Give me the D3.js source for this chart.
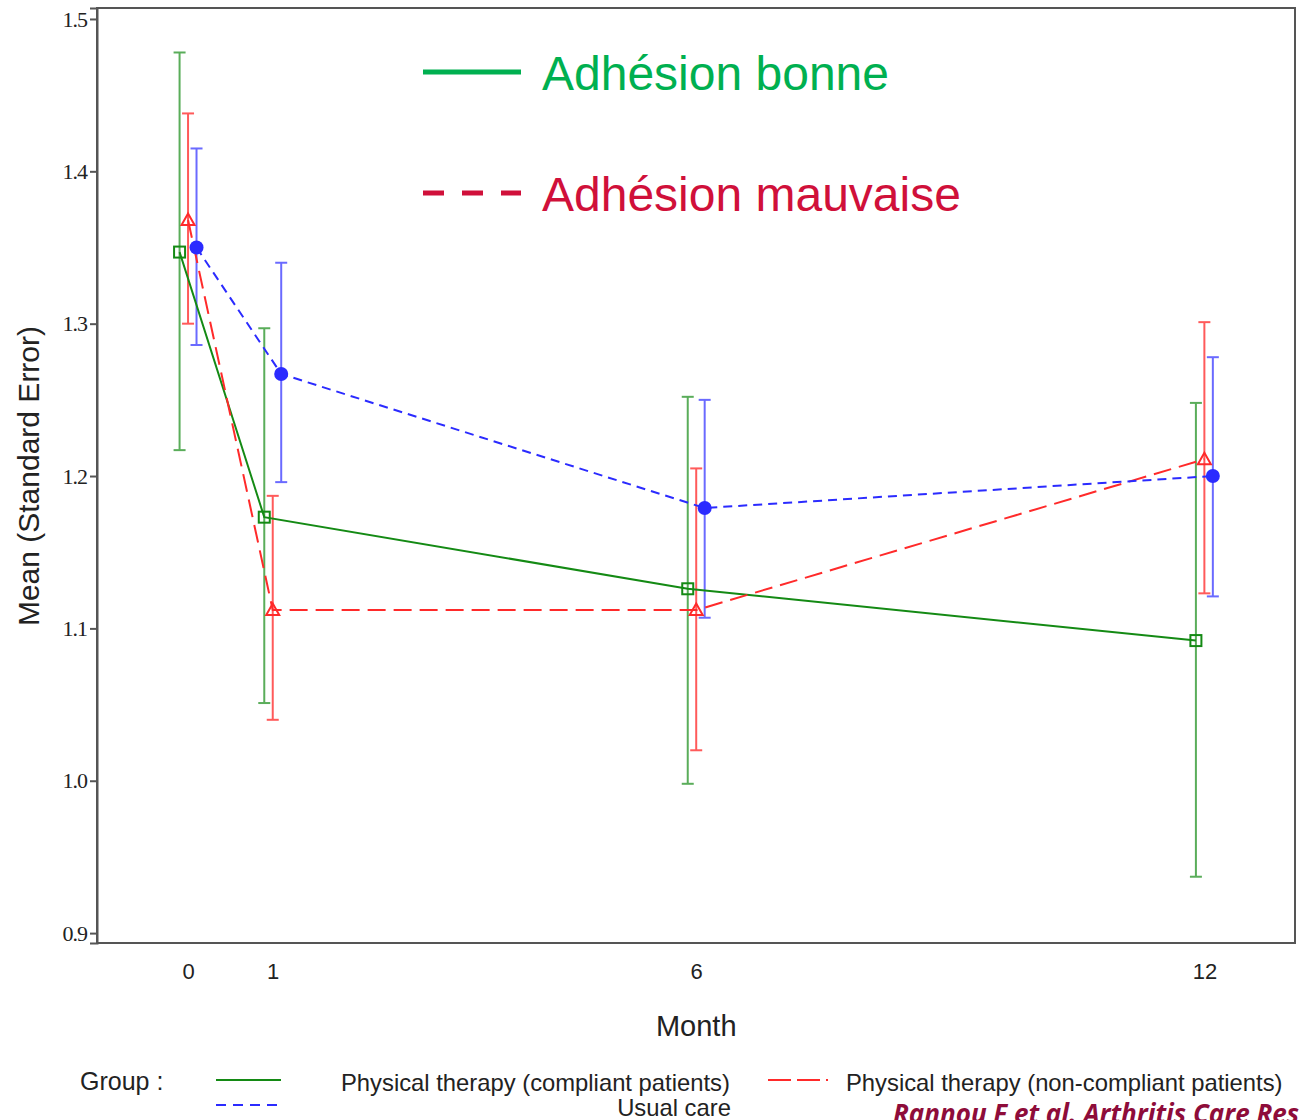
<!DOCTYPE html>
<html>
<head>
<meta charset="utf-8">
<script src="https://cdn.jsdelivr.net/npm/d3@7"></script>
<style>
  html, body { margin: 0; padding: 0; background: #fff; overflow: hidden; }
  svg { display: block; }
</style>
</head>
<body>
<script>
// Follow-up months
const months = [0, 1, 6, 12];
const yTicks = [0.9, 1.0, 1.1, 1.2, 1.3, 1.4, 1.5];

// Physical therapy (compliant patients)
const compliantMean = [1.347, 1.173, 1.126, 1.092];
const compliantLow  = [1.217, 1.051, 0.998, 0.937];
const compliantHigh = [1.478, 1.297, 1.252, 1.248];

// Physical therapy (non-compliant patients)
const nonCompliantMean = [1.368, 1.112, 1.112, 1.211];
const nonCompliantLow  = [1.300, 1.040, 1.020, 1.123];
const nonCompliantHigh = [1.438, 1.187, 1.205, 1.301];

// Usual care
const usualMean = [1.350, 1.267, 1.179, 1.200];
const usualLow  = [1.286, 1.196, 1.107, 1.121];
const usualHigh = [1.415, 1.340, 1.250, 1.278];

const W = 1299, H = 1120;
const margin = { left: 97, top: 8, right: 4, bottom: 177 };
const sans = "'Liberation Sans', Arial, sans-serif";

const svg = d3.select("body").append("svg")
  .attr("width", W).attr("height", H);

const x = d3.scaleLinear().domain([-1.075, 13.07]).range([margin.left, W - margin.right]);
const y = d3.scaleLinear().domain([0.8935, 1.5072]).range([H - margin.bottom, margin.top]);

const series = [
  { key: "compliant", mean: compliantMean, lo: compliantLow, hi: compliantHigh, shift: -0.1,
    line: "#148a14", bar: "#5aad5a", dash: null, marker: "square" },
  { key: "noncompliant", mean: nonCompliantMean, lo: nonCompliantLow, hi: nonCompliantHigh, shift: 0,
    line: "#ff2a2a", bar: "#ff5a5a", dash: "18,8", marker: "triangle" },
  { key: "usual", mean: usualMean, lo: usualLow, hi: usualHigh, shift: 0.1,
    line: "#2b2bff", bar: "#6a6aff", dash: "9,6", marker: "circle" }
];

// Frame
svg.append("rect")
  .attr("x", x.range()[0]).attr("y", y.range()[1])
  .attr("width", x.range()[1] - x.range()[0])
  .attr("height", y.range()[0] - y.range()[1])
  .attr("fill", "none").attr("stroke", "#555").attr("stroke-width", 2);

// Y axis
const yAxis = svg.append("g")
  .attr("transform", `translate(${x.range()[0]},0)`)
  .call(d3.axisLeft(y).tickValues(yTicks).tickFormat(d3.format(".1f")).tickSize(7).tickPadding(3));
yAxis.select(".domain").attr("stroke", "#555").attr("stroke-width", 2);
yAxis.selectAll(".tick line").attr("stroke", "#555").attr("stroke-width", 2);
yAxis.selectAll("text")
  .attr("font-family", "'Liberation Serif', 'Times New Roman', serif")
  .attr("font-size", 22).attr("fill", "#222")
  .attr("letter-spacing", -1);

// X axis (labels only)
const xAxis = svg.append("g")
  .attr("transform", `translate(0,${y.range()[0]})`)
  .call(d3.axisBottom(x).tickValues(months).tickFormat(d3.format("d")).tickSize(0).tickPadding(20));
xAxis.select(".domain").remove();
xAxis.selectAll("text")
  .attr("font-family", sans)
  .attr("font-size", 22).attr("fill", "#222");

// Axis titles
svg.append("text")
  .attr("x", x(6)).attr("y", 1036)
  .attr("text-anchor", "middle")
  .attr("font-family", sans)
  .attr("font-size", 29).attr("fill", "#222")
  .text("Month");

svg.append("text")
  .attr("transform", `translate(39,${y(1.2)}) rotate(-90)`)
  .attr("text-anchor", "middle")
  .attr("font-family", sans)
  .attr("font-size", 30).attr("fill", "#222")
  .text("Mean (Standard Error)");

const plot = svg.append("g");

// Error bars
series.forEach(s => {
  const g = plot.append("g");
  months.forEach((m, i) => {
    const cx = x(m + s.shift);
    g.append("line")
      .attr("x1", cx).attr("x2", cx)
      .attr("y1", y(s.lo[i])).attr("y2", y(s.hi[i]))
      .attr("stroke", s.bar).attr("stroke-width", 2);
    [s.lo[i], s.hi[i]].forEach(v => {
      g.append("line")
        .attr("x1", cx - 6).attr("x2", cx + 6)
        .attr("y1", y(v)).attr("y2", y(v))
        .attr("stroke", s.bar).attr("stroke-width", 2);
    });
  });
});

// Mean lines
series.forEach(s => {
  const line = d3.line().x((d, i) => x(months[i] + s.shift)).y(d => y(d));
  plot.append("path")
    .datum(s.mean)
    .attr("d", line)
    .attr("fill", "none")
    .attr("stroke", s.line)
    .attr("stroke-width", 2)
    .attr("stroke-dasharray", s.dash);
});

// Markers
series.forEach(s => {
  months.forEach((m, i) => {
    const cx = x(m + s.shift), cy = y(s.mean[i]);
    if (s.marker === "square") {
      plot.append("rect")
        .attr("x", cx - 5.5).attr("y", cy - 5.5)
        .attr("width", 11).attr("height", 11)
        .attr("fill", "none").attr("stroke", s.line).attr("stroke-width", 2);
    } else if (s.marker === "triangle") {
      plot.append("path")
        .attr("d", `M${cx},${cy - 6.5}L${cx + 6.5},${cy + 5}L${cx - 6.5},${cy + 5}Z`)
        .attr("fill", "none").attr("stroke", s.line).attr("stroke-width", 2);
    } else {
      plot.append("circle")
        .attr("cx", cx).attr("cy", cy).attr("r", 7)
        .attr("fill", s.line);
    }
  });
});

// Adherence annotation
const ann = svg.append("g").attr("font-family", sans);
ann.append("line")
  .attr("x1", 423).attr("x2", 521).attr("y1", 72).attr("y2", 72)
  .attr("stroke", "#00b050").attr("stroke-width", 5);
ann.append("text")
  .attr("x", 542).attr("y", 90)
  .attr("font-size", 48).attr("fill", "#00b050")
  .text("Adhésion bonne");
ann.append("line")
  .attr("x1", 423).attr("x2", 521).attr("y1", 193).attr("y2", 193)
  .attr("stroke", "#d0103a").attr("stroke-width", 5)
  .attr("stroke-dasharray", "21,18");
ann.append("text")
  .attr("x", 542).attr("y", 211)
  .attr("font-size", 48).attr("fill", "#d0103a")
  .text("Adhésion mauvaise");

// Legend
const leg = svg.append("g")
  .attr("font-family", sans)
  .attr("font-size", 23.8).attr("fill", "#222");
leg.append("text").attr("x", 80).attr("y", 1090).attr("font-size", 25).text("Group :");
leg.append("line").attr("x1", 216).attr("x2", 281).attr("y1", 1080).attr("y2", 1080)
  .attr("stroke", "#148a14").attr("stroke-width", 2);
leg.append("text").attr("x", 341).attr("y", 1091).text("Physical therapy (compliant patients)");
leg.append("line").attr("x1", 216).attr("x2", 281).attr("y1", 1105).attr("y2", 1105)
  .attr("stroke", "#2b2bff").attr("stroke-width", 2).attr("stroke-dasharray", "10,7");
leg.append("text").attr("x", 674).attr("y", 1116).attr("text-anchor", "middle").text("Usual care");
leg.append("line").attr("x1", 768).attr("x2", 828).attr("y1", 1080).attr("y2", 1080)
  .attr("stroke", "#ff2a2a").attr("stroke-width", 2).attr("stroke-dasharray", "23,6");
leg.append("text").attr("x", 846).attr("y", 1091).text("Physical therapy (non-compliant patients)");

// Source
svg.append("text")
  .attr("x", 893).attr("y", 1123)
  .attr("font-family", "'Open Sans', 'Liberation Sans', sans-serif")
  .attr("font-size", 26).attr("font-weight", "bold").attr("font-style", "italic")
  .attr("fill", "#8e0c3a")
  .text("Rannou F et al. Arthritis Care Res");
</script>
</body>
</html>
